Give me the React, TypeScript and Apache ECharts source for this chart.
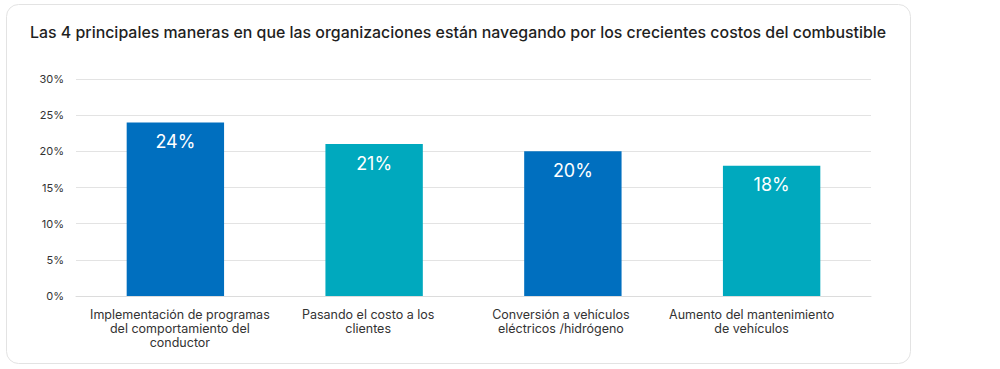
import React, { useEffect, useRef } from "react";
import * as echarts from "echarts";

const TITLE = "Las 4 principales maneras en que las organizaciones están navegando por los crecientes costos del combustible";
const categories = [
  "Implementación de programas\ndel comportamiento del\nconductor",
  "Pasando el costo a los\nclientes",
  "Conversión a vehículos\neléctricos /hidrógeno",
  "Aumento del mantenimiento\nde vehículos",
];
const values = [24, 21, 20, 18];
const barColors = ["#006FBF", "#00A9BE", "#006FBF", "#00A9BE"];
const yTicks = { min: 0, max: 30, interval: 5 };

// label paddings (style only): [top, right, bottom, left]
const labelPadding = [
  [0, 0, 0, 9],
  [0, 12, 0, 0],
  [0, 24, 0, 0],
  [0, 40, 0, 0],
];

const FONT = "Inter, 'Noto Sans', Arial, sans-serif";

export default function App() {
  const ref = useRef<HTMLDivElement>(null);
  useEffect(() => {
    document.body.style.margin = "0";
    const chart = echarts.init(ref.current!, null, { renderer: "svg" });
    chart.setOption({
      animation: false,
      backgroundColor: "#ffffff",
      graphic: [
        {
          type: "rect",
          z: -10,
          silent: true,
          shape: { x: 6.5, y: 4.5, width: 904, height: 359, r: 12 },
          style: { fill: "#ffffff", stroke: "#e3e3e3", lineWidth: 1 },
        },
      ],
      title: {
        text: TITLE,
        left: 25,
        top: 19,
        textStyle: { fontFamily: FONT, fontSize: 15.9, fontWeight: 500, color: "#1f1f1f" },
      },
      grid: { left: 76, right: 129, top: 79, bottom: 73, containLabel: false },
      xAxis: {
        type: "category",
        data: categories.map((c, i) => ({
          value: c,
          textStyle: { padding: labelPadding[i] },
        })),
        axisLine: { show: true, lineStyle: { color: "#dcdcdc", width: 1 } },
        axisTick: { show: false },
        axisLabel: {
          interval: 0,
          margin: 11,
          fontFamily: FONT,
          fontSize: 12.5,
          lineHeight: 14,
          color: "#333333",
          align: "center",
        },
      },
      yAxis: {
        type: "value",
        min: yTicks.min,
        max: yTicks.max,
        interval: yTicks.interval,
        axisLine: { show: false },
        axisTick: { show: false },
        splitLine: { lineStyle: { color: "#e3e3e3", width: 1 } },
        axisLabel: {
          formatter: "{value}%",
          fontFamily: FONT,
          fontSize: 11,
          color: "#333333",
          margin: 12,
        },
      },
      series: [
        {
          type: "bar",
          data: values.map((v, i) => ({ value: v, itemStyle: { color: barColors[i] } })),
          barWidth: "49%",
          label: {
            show: true,
            position: "insideTop",
            distance: 10,
            formatter: "{c}%",
            color: "#ffffff",
            fontFamily: FONT,
            fontSize: 18,
          },
        },
      ],
    });
    return () => chart.dispose();
  }, []);
  return <div ref={ref} style={{ width: 1000, height: 369 }} />;
}
